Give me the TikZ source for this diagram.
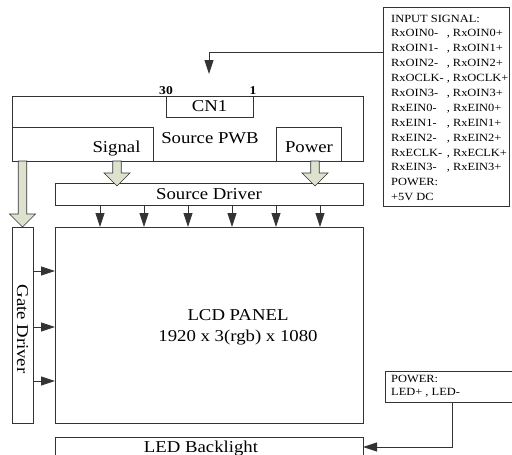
\documentclass[tikz,border=0pt]{standalone}
\usepackage{fontspec}
\setmainfont{Liberation Serif}[FakeStretch=1.13]
\usetikzlibrary{arrows.meta,positioning,calc}

\definecolor{linegray}{HTML}{333333}
\definecolor{sage}{HTML}{DCE2CE}

\newcommand\bigfont{\fontsize{16.6}{21}\selectfont}
\newcommand\smallfont{\fontsize{11}{13.3}\selectfont}
% hollow block arrow pointing down, from #1 to the tip #2
\newcommand\fatdown[2]{%
  \draw[fatarr] let \p1=#1, \p2=#2 in
    (\x1-4.2pt,\y1) -- (\x1-4.2pt,\y2+13pt) -- (\x1-13pt,\y2+13pt) -- (\x2,\y2)
    -- (\x1+13pt,\y2+13pt) -- (\x1+4.2pt,\y2+13pt) -- (\x1+4.2pt,\y1) -- cycle;}

\begin{document}
\begin{tikzpicture}[x=1pt, y=-1pt,
  box/.style={draw=linegray, line width=0.8pt, inner sep=0pt, outer sep=0pt, anchor=north west, font=\bigfont},
  lbl/.style={inner sep=0pt, font=\bigfont},
  note/.style={inner sep=0pt, font=\smallfont, anchor=base west},
  pin/.style={inner sep=0pt, anchor=south, font=\bfseries\fontsize{12}{12}\selectfont},
  arr/.style={-{Triangle[length=14pt,width=9pt]}, draw=linegray, line width=0.8pt},
  fatarr/.style={draw=linegray, line width=0.7pt, fill=sage, line join=miter}
]
\useasboundingbox (0,0) rectangle (512,455);

% source board
\node[box, minimum width=351, minimum height=65] (pwb) at (12,96) {};
\node[box, minimum width=87, minimum height=21] (cn1) at (166,96) {CN1};
\node[pin] (pin30) at ([yshift=1pt]cn1.north west) {30};
\node[pin] (pin1) at ([yshift=1pt]cn1.north east) {1};
\node[box, minimum width=141, minimum height=34] (sig) at (12,127) {};
\node[box, minimum width=65, minimum height=34] (pwr) at (276,127) {};
\node[lbl, anchor=base] (pwbtxt) at (210,143) {Source PWB};
\node[lbl, anchor=base] (sigtxt) at (116.5,152) {Signal};
\node[lbl, anchor=base] (pwrtxt) at (309,152) {Power};

% drivers and panel
\node[box, minimum width=308, minimum height=22] (srcdrv) at (55,183) {Source Driver};
\node[box, minimum width=308, minimum height=196, below=22pt of srcdrv.south west, anchor=north west] (lcd) {};
\node[box, minimum width=21, minimum height=196, left=22pt of lcd.north west, anchor=north east] (gate) {};
\node[box, minimum width=308, minimum height=25, below=14pt of lcd.south west, anchor=north west] (led) {};
\node[lbl, anchor=base, align=center] (lcdtxt) at (238,341) {LCD PANEL\\1920 x 3(rgb) x 1080};
\node[lbl, rotate=-90] (gatetxt) at (22.5,329) {Gate Driver};
\node[lbl, anchor=base] (ledtxt) at (201,452) {LED Backlight};

% interface notes
\node[box, minimum width=126, minimum height=199] (insig) at (383,7) {};
\node[note] (insigtxt) at (391,22) {\def\arraystretch{1.12}\begin{tabular}[t]{@{}l@{\ }l@{}}
  \multicolumn{2}{@{}l@{}}{INPUT SIGNAL:}\\
  RxOIN0- & , RxOIN0+\\
  RxOIN1- & , RxOIN1+\\
  RxOIN2- & , RxOIN2+\\
  RxOCLK- & , RxOCLK+\\
  RxOIN3- & , RxOIN3+\\
  RxEIN0- & , RxEIN0+\\
  RxEIN1- & , RxEIN1+\\
  RxEIN2- & , RxEIN2+\\
  RxECLK- & , RxECLK+\\
  RxEIN3- & , RxEIN3+\\
  \multicolumn{2}{@{}l@{}}{POWER:}\\
  \multicolumn{2}{@{}l@{}}{+5V DC}
\end{tabular}};
\node[box, minimum width=127, minimum height=31] (ledpwr) at (385,371) {};
\node[note] (ledpwrtxt) at (391,382) {\begin{tabular}[t]{@{}l@{}}POWER:\\LED+ , LED-\end{tabular}};

% block arrows
\coordinate (sigarr) at (117,161);
\coordinate (pwrarr) at (315,161);
\fatdown{(sigarr)}{($(srcdrv.north -| sigarr)+(0,3)$)}
\fatdown{(pwrarr)}{($(srcdrv.north -| pwrarr)+(0,3)$)}
\fatdown{(gate.north |- sig.south)}{(gate.north)}

% signal lines
\foreach \x in {100,144,188,232,276,320}
  \draw[arr] (srcdrv.south -| \x,0) -- (lcd.north -| \x,0);
\foreach \y in {271,327,381}
  \draw[arr] (gate.east |- 0,\y) -- (lcd.west |- 0,\y);
\coordinate (cnin) at (209,74);
\draw[arr] (insig.west |- 0,52) -| (cnin);
\draw[arr] (ledpwr.south -| 452,0) |- (led.east |- 0,447);

\end{tikzpicture}
\end{document}
